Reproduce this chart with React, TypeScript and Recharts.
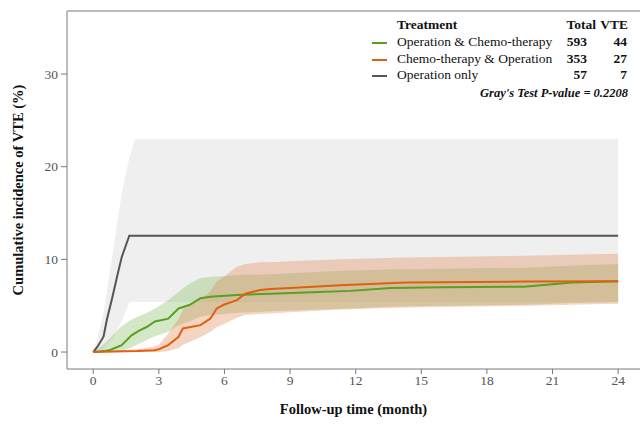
import { ComposedChart, Area, Line, XAxis, YAxis, ReferenceLine } from 'recharts';

const xTicks = [0, 3, 6, 9, 12, 15, 18, 21, 24];
const yTicks = [0, 10, 20, 30];

// Operation only
const opTime = [0, 0.2, 0.47, 0.62, 0.88, 1.16, 1.31, 1.65, 1.92, 24];
const opCif = [0, 0.6, 1.65, 3.45, 5.97, 8.85, 10.3, 12.55, 12.55, 12.55];
const opLow = [0, 0.1, 0.3, 0.7, 1.5, 2.6, 3.4, 5.4, 5.4, 5.4];
const opHigh = [0, 1.6, 4.2, 6.5, 10.5, 15.0, 17.2, 21.0, 23, 23];

// Operation & Chemo-therapy
const ocTime = [0, 0.5, 0.8, 1.3, 1.75, 2.1, 2.44, 2.82, 3.43, 3.9, 4.4, 4.9, 5.35, 6.57, 8.1, 10, 11.75, 13.6, 16, 19.7, 21.9, 24];
const ocCif = [0, 0.1, 0.25, 0.75, 1.8, 2.3, 2.7, 3.3, 3.6, 4.7, 5.07, 5.8, 5.97, 6.15, 6.3, 6.45, 6.6, 6.9, 7.0, 7.05, 7.5, 7.65];
const ocLow = [0, 0, 0, 0.15, 0.5, 0.9, 1.3, 1.7, 2.2, 2.9, 3.3, 3.8, 4.0, 4.2, 4.4, 4.55, 4.7, 4.9, 5.0, 5.1, 5.3, 5.4];
const ocHigh = [0, 0.9, 1.6, 2.8, 3.5, 3.9, 4.2, 4.7, 5.6, 6.5, 7.4, 8.0, 8.1, 8.3, 8.4, 8.6, 8.8, 8.9, 9.0, 9.1, 9.3, 9.5];

// Chemo-therapy & Operation
const coTime = [0, 1, 2, 2.8, 3.0, 3.43, 3.9, 4.1, 4.9, 5.35, 5.65, 5.96, 6.57, 6.95, 7.63, 8.1, 9, 11.3, 14.3, 19.7, 24];
const coCif = [0, 0.05, 0.1, 0.2, 0.3, 0.75, 1.65, 2.55, 2.9, 3.6, 4.7, 5.1, 5.6, 6.3, 6.7, 6.8, 6.9, 7.2, 7.5, 7.6, 7.65];
const coLow = [0, 0, 0, 0, 0, 0.1, 0.4, 0.8, 1.6, 2.2, 2.7, 3.0, 3.7, 4.0, 4.1, 4.15, 4.3, 4.6, 4.8, 5.0, 5.2];
const coHigh = [0, 0.2, 0.3, 0.6, 0.8, 2.0, 3.6, 4.6, 5.6, 6.6, 7.6, 8.1, 9.2, 9.5, 9.7, 9.7, 9.8, 10.0, 10.2, 10.4, 10.6];

const legendRows = [
  { name: 'Operation & Chemo-therapy', total: 593, vte: 44, color: '#5c9e22' },
  { name: 'Chemo-therapy & Operation', total: 353, vte: 27, color: '#e0600f' },
  { name: 'Operation only', total: 57, vte: 7, color: '#555555' },
];

function toRows(time: number[], cif: number[], low: number[], high: number[]) {
  return time.map((t, i) => ({ t, cif: cif[i], band: [low[i], high[i]] }));
}

const opData = toRows(opTime, opCif, opLow, opHigh);
const ocData = toRows(ocTime, ocCif, ocLow, ocHigh);
const coData = toRows(coTime, coCif, coLow, coHigh);

const serif = 'Liberation Serif, Tinos, Times New Roman, DejaVu Serif, serif';
const axisColor = '#7a7a7a';
const yMax = 36.8;

export default function App() {
  return (
    <div style={{ position: 'absolute', left: 0, top: 0, width: 640, height: 425, background: '#fff', fontFamily: serif }}>
      <ComposedChart width={640} height={425} margin={{ top: 11, right: 0, left: 0, bottom: 0 }} style={{ fontFamily: serif }}>
        <XAxis
          dataKey="t"
          type="number"
          domain={[-1.2, 25]}
          ticks={xTicks}
          allowDataOverflow
          height={56}
          tickSize={5}
          tickMargin={1}
          stroke={axisColor}
          tick={{ fill: '#555', fontSize: 13.5, fontFamily: serif }}
          label={{ value: 'Follow-up time (month)', position: 'insideBottom', offset: 11, style: { fontFamily: serif, fontSize: 14.5, fontWeight: 'bold', fill: '#111' } }}
        />
        <YAxis
          type="number"
          domain={[-1.83, yMax]}
          ticks={yTicks}
          allowDataOverflow
          width={67}
          tickSize={6}
          tickMargin={3}
          stroke={axisColor}
          tick={{ fill: '#555', fontSize: 13.5, fontFamily: serif }}
          label={{ value: 'Cumulative incidence of VTE (%)', angle: -90, position: 'insideLeft', offset: 18, style: { textAnchor: 'middle', fontFamily: serif, fontSize: 14.5, fontWeight: 'bold', fill: '#111' } }}
        />
        <ReferenceLine y={yMax} stroke={axisColor} strokeWidth={1} />
        <Area data={opData} dataKey="band" type="linear" stroke="none" fill="#dcdcdc" fillOpacity={0.45} isAnimationActive={false} dot={false} activeDot={false} />
        <Area data={ocData} dataKey="band" type="linear" stroke="none" fill="#8dc26b" fillOpacity={0.38} isAnimationActive={false} dot={false} activeDot={false} />
        <Area data={coData} dataKey="band" type="linear" stroke="none" fill="#e0875a" fillOpacity={0.36} isAnimationActive={false} dot={false} activeDot={false} />
        <Line data={opData} dataKey="cif" type="linear" stroke="#555555" strokeWidth={2} dot={false} activeDot={false} isAnimationActive={false} />
        <Line data={ocData} dataKey="cif" type="linear" stroke="#5c9e22" strokeWidth={2} dot={false} activeDot={false} isAnimationActive={false} />
        <Line data={coData} dataKey="cif" type="linear" stroke="#e0600f" strokeWidth={2} dot={false} activeDot={false} isAnimationActive={false} />
      </ComposedChart>

      <div style={{ position: 'absolute', left: 0, top: 0, width: 640, height: 110, fontSize: 13.5, color: '#111', pointerEvents: 'none' }}>
        <div style={{ position: 'absolute', left: 397, top: 17, fontWeight: 'bold', lineHeight: '16px' }}>Treatment</div>
        <div style={{ position: 'absolute', right: 640 - 596, top: 17, fontWeight: 'bold', lineHeight: '16px' }}>Total</div>
        <div style={{ position: 'absolute', right: 640 - 628, top: 17, fontWeight: 'bold', lineHeight: '16px' }}>VTE</div>
        {legendRows.map((r, i) => (
          <div key={r.name}>
            <div style={{ position: 'absolute', left: 372, top: 34 + i * 16.7 + 8, width: 15, height: 2, background: r.color }} />
            <div style={{ position: 'absolute', left: 397, top: 34 + i * 16.7, lineHeight: '16px' }}>{r.name}</div>
            <div style={{ position: 'absolute', right: 640 - 587, top: 34 + i * 16.7, lineHeight: '16px', fontWeight: 'bold' }}>{r.total}</div>
            <div style={{ position: 'absolute', right: 640 - 627, top: 34 + i * 16.7, lineHeight: '16px', fontWeight: 'bold' }}>{r.vte}</div>
          </div>
        ))}
        <div style={{ position: 'absolute', right: 640 - 628, top: 85, lineHeight: '16px', fontWeight: 'bold', fontStyle: 'italic', fontSize: 12.5 }}>
          Gray's Test P-value = 0.2208
        </div>
      </div>
    </div>
  );
}
